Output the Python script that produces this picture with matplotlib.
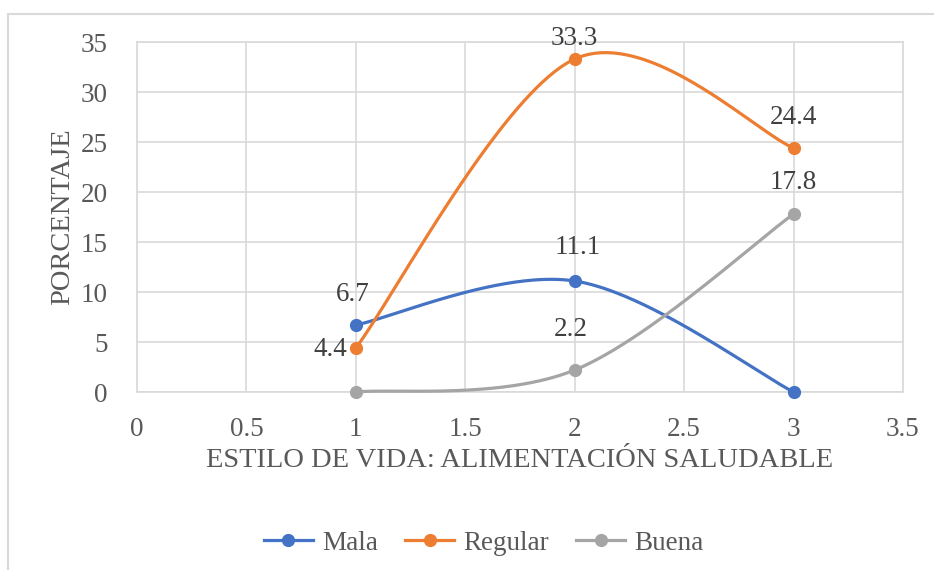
import numpy as np
import matplotlib.pyplot as plt
from matplotlib.patches import Rectangle
from matplotlib.lines import Line2D

plt.rcParams['font.family'] = ['Liberation Serif', 'DejaVu Serif']

# datos (porcentajes)
x = [1, 2, 3]
mala = [6.7, 11.1, 0]
regular = [4.4, 33.3, 24.4]
buena = [0, 2.2, 17.8]

series = [('Mala', mala, '#4472C4'),
          ('Regular', regular, '#ED7D31'),
          ('Buena', buena, '#A5A5A5')]

txt = '#595959'
grid = '#D9D9D9'
fs = 19.5


def smooth(ax, xs, ys, n=80):
    # curva suavizada tipo Excel (Bezier / Catmull-Rom en pixeles)
    pts = ax.transData.transform(np.column_stack([xs, ys]))
    out = [pts[0]]
    m = len(pts)
    for i in range(m - 1):
        p0 = pts[max(i - 1, 0)]
        p1 = pts[i]
        p2 = pts[i + 1]
        p3 = pts[min(i + 2, m - 1)]
        c1 = p1 + (p2 - p0) / 6
        c2 = p2 - (p3 - p1) / 6
        t = np.linspace(0, 1, n)[1:, None]
        seg = (1 - t) ** 3 * p1 + 3 * (1 - t) ** 2 * t * c1 + 3 * (1 - t) * t ** 2 * c2 + t ** 3 * p2
        out.extend(seg)
    return ax.transData.inverted().transform(np.array(out))


fig = plt.figure(figsize=(9.34, 5.70), dpi=100)
fig.patches.append(Rectangle((8 / 934, -0.1), 1.2, (570 - 14) / 570 + 0.1,
                             transform=fig.transFigure, fill=False,
                             edgecolor='#D9D9D9', linewidth=1.5))

ax = fig.add_axes([137 / 934, (570 - 392) / 570, (903 - 137) / 934, (392 - 42) / 570])
ax.set_xlim(0, 3.5)
ax.set_ylim(0, 35)
ax.set_xticks(np.arange(0, 3.51, 0.5))
ax.set_xticklabels(['0', '0.5', '1', '1.5', '2', '2.5', '3', '3.5'])
ax.set_yticks(range(0, 36, 5))
ax.grid(True, color=grid, linewidth=1.2)
ax.set_axisbelow(True)
for s in ax.spines.values():
    s.set_color(grid)
    s.set_linewidth(1.2)
ax.tick_params(length=0, labelsize=fs, colors=txt)
ax.tick_params(axis='x', pad=18)
ax.tick_params(axis='y', pad=21)

for name, ys, c in series:
    sm = smooth(ax, x, ys)
    ax.plot(sm[:, 0], sm[:, 1], color=c, linewidth=2.3, clip_on=False, zorder=3)
    ax.plot(x, ys, 'o', color=c, markersize=8.5, clip_on=False, zorder=4)


# etiquetas de datos
def etiqueta(xv, yv, dx, dy, ha='center'):
    ax.annotate(f'{yv}', (xv, yv), xytext=(dx, dy), textcoords='offset points',
                fontsize=fs, color='#404040', ha=ha, va='center')


etiqueta(x[0], mala[0], -2, 22)
etiqueta(x[1], mala[1], 2, 24)
etiqueta(x[0], regular[0], -6, -1, ha='right')
etiqueta(x[1], regular[1], 0, 15)
etiqueta(x[2], regular[2], 0, 22)
etiqueta(x[1], buena[1], -3, 29)
etiqueta(x[2], buena[2], 0, 23)

ax.set_xlabel('ESTILO DE VIDA: ALIMENTACIÓN SALUDABLE', fontsize=20.5, color=txt, labelpad=4)
ax.set_ylabel('PORCENTAJE', fontsize=20.5, color=txt, labelpad=4)

handles = [Line2D([], [], color=c, linewidth=2.3, marker='o', markersize=8.5) for _, _, c in series]
leg = fig.legend(handles, [n for n, _, _ in series], loc='center', bbox_to_anchor=(0.518, 0.047),
                 ncol=3, frameon=False, fontsize=19.5, handlelength=1.8, columnspacing=1.0,
                 handletextpad=0.35)
for t in leg.get_texts():
    t.set_color(txt)

fig.savefig('out.png', dpi=100)
